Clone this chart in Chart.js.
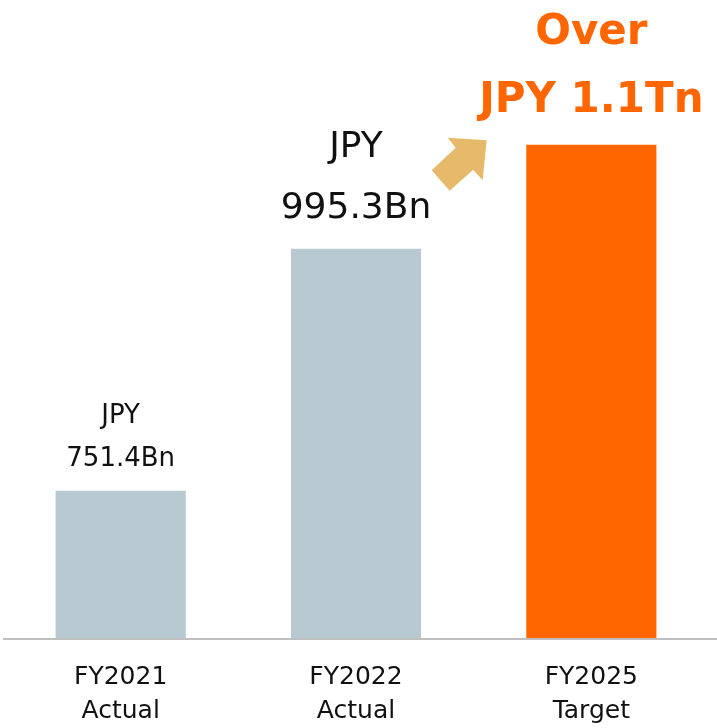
<!DOCTYPE html>
<html>
<head>
<meta charset="utf-8">
<script src="https://cdn.jsdelivr.net/npm/chart.js@4"></script>
<style>
  html, body { margin: 0; padding: 0; background: #ffffff; }
  #wrap { width: 717px; height: 728px; position: relative; }
</style>
</head>
<body>
<div id="wrap"><canvas id="c"></canvas></div>
<script>
// ---- data ----
const categories = [["FY2021", "Actual"], ["FY2022", "Actual"], ["FY2025", "Target"]];
const revenueBn = [751.4, 995.3, 1100];
const labelLine1 = ["JPY", "JPY", "Over"];
const labelLine2 = ["751.4Bn", "995.3Bn", "JPY 1.1Tn"];

// ---- styles ----
const barColors = ["#B9C9D2", "#B9C9D2", "#FF6600"];
const labelStyles = [
  { size: 26, bold: false, color: "#111111", off1: 74.5, off2: 31.5 },
  { size: 36, bold: false, color: "#111111", off1: 101.5, off2: 40.5 },
  { size: 42, bold: true,  color: "#FF6600", off1: 112, off2: 43.5 }
];
const FONT = "'DejaVu Sans', Verdana, sans-serif";

const overlay = {
  id: "overlay",
  afterDatasetsDraw(chart) {
    const ctx = chart.ctx;
    const meta = chart.getDatasetMeta(0);
    const ys = chart.scales.y;
    // baseline
    const yb = ys.getPixelForValue(ys.min);
    ctx.save();
    ctx.strokeStyle = "#BFBFBF";
    ctx.lineWidth = 2;
    ctx.beginPath();
    ctx.moveTo(chart.chartArea.left, yb);
    ctx.lineTo(chart.width, yb);
    ctx.stroke();
    // value labels
    ctx.textAlign = "center";
    ctx.textBaseline = "middle";
    meta.data.forEach((bar, i) => {
      const st = labelStyles[i];
      ctx.fillStyle = st.color;
      ctx.font = (st.bold ? "bold " : "") + st.size + "px " + FONT;
      ctx.fillText(labelLine1[i], bar.x, bar.y - st.off1);
      ctx.fillText(labelLine2[i], bar.x, bar.y - st.off2);
    });
    // growth arrow between 2nd and 3rd bar
    const mx = (meta.data[1].x + meta.data[2].x) / 2;
    const ty = meta.data[2].y;
    const tipX = mx + 13, tipY = ty - 4.5;
    const pts = [[0, 0], [-4, 40], [-13.5, 29.5], [-37, 50.5], [-55, 30], [-31, 7.5], [-39, -2.5]];
    ctx.fillStyle = "#E6BA6A";
    ctx.beginPath();
    pts.forEach((p, k) => {
      const px = tipX + p[0], py = tipY + p[1];
      if (k === 0) ctx.moveTo(px, py); else ctx.lineTo(px, py);
    });
    ctx.closePath();
    ctx.fill();
    ctx.restore();
  }
};

new Chart(document.getElementById("c"), {
  type: "bar",
  data: {
    labels: categories,
    datasets: [{
      data: revenueBn,
      backgroundColor: barColors,
      borderWidth: 0,
      categoryPercentage: 1,
      barPercentage: 0.553
    }]
  },
  options: {
    responsive: true,
    maintainAspectRatio: false,
    animation: false,
    layout: { padding: { left: 3, right: 8, top: 0, bottom: 0 } },
    plugins: { legend: { display: false }, tooltip: { enabled: false } },
    scales: {
      y: { display: false, min: 602, max: 1246 },
      x: {
        grid: { display: false, drawTicks: false },
        border: { display: false },
        afterFit(scale) { scale.height = 89; },
        ticks: {
          padding: 21,
          color: "#111111",
          font: { family: FONT, size: 25, lineHeight: 1.38 }
        }
      }
    }
  },
  plugins: [overlay]
});
</script>
</body>
</html>
